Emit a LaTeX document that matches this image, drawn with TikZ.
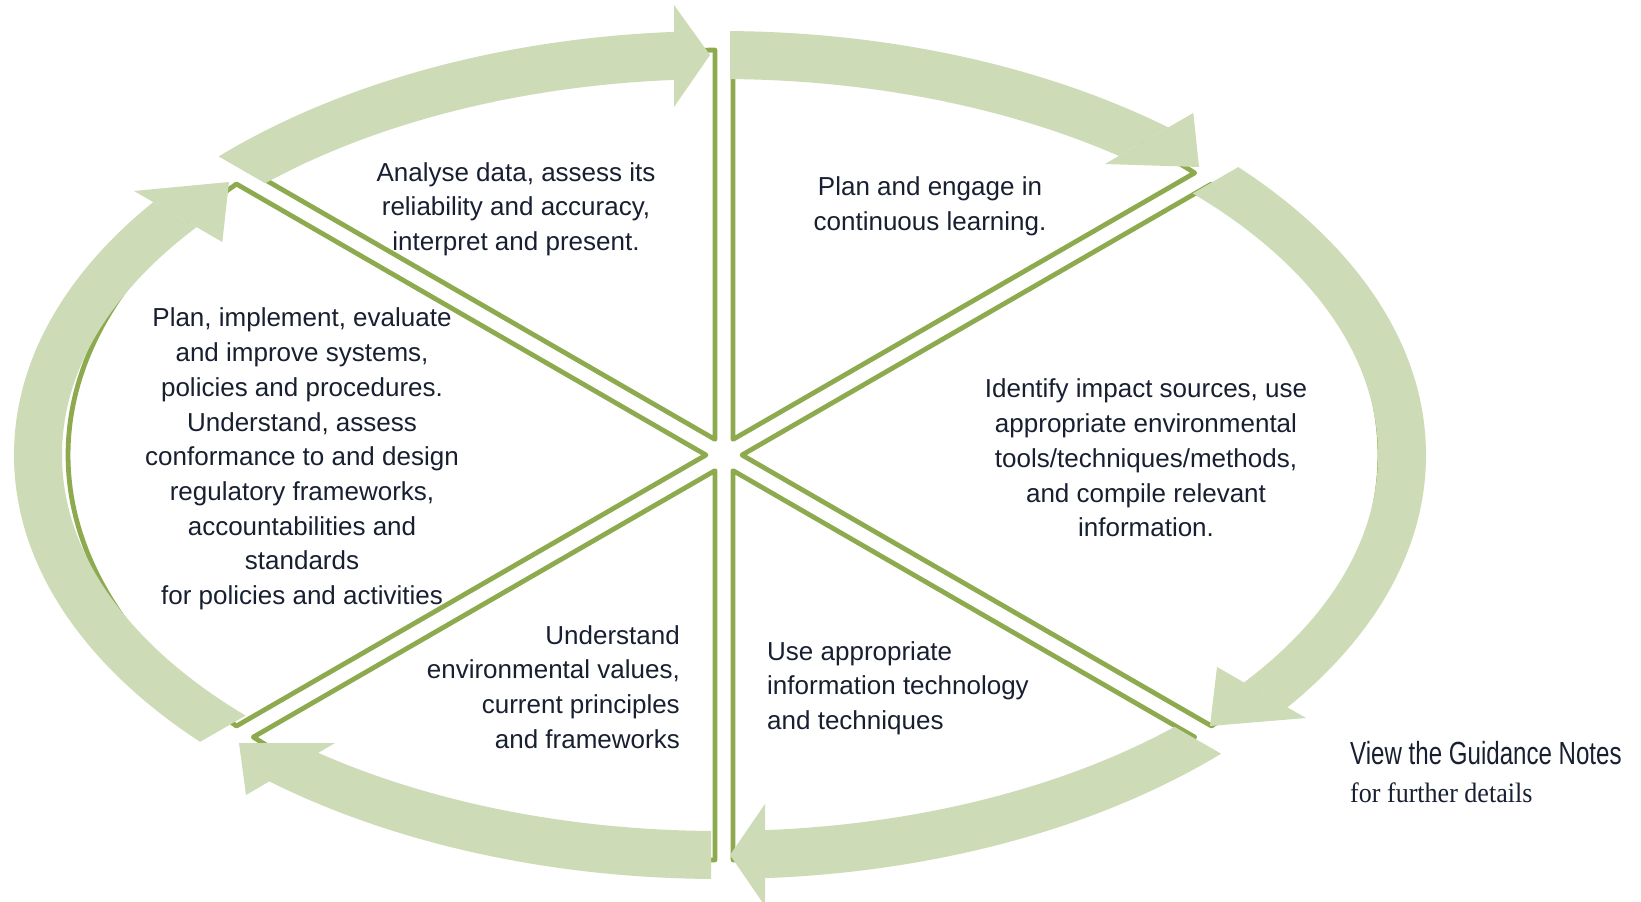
\documentclass[tikz,border=0pt]{standalone}
\usepackage{fontspec}
\usepackage{graphicx}
\setmainfont{Liberation Sans}
\newfontfamily\serifx{Liberation Serif}
\definecolor{arrowgreen}{RGB}{205,219,182}
\definecolor{linegreen}{RGB}{141,170,79}
\definecolor{txt}{RGB}{23,31,48}
\begin{document}
\begin{tikzpicture}[x=1pt,y=-1pt,
  sector/.style={draw=linegreen, line width=4.8pt, line join=round, line cap=round},
  band/.style={fill=arrowgreen},
  lbl/.style={text=txt, font=\fontsize{26}{34.7}\selectfont, inner sep=0pt},
  ring/.style={band, even odd rule},
]
\useasboundingbox (0,0) rectangle (1641,902);
\def\ringpath{(720,455) ellipse [x radius=706, y radius=424] (720,455) ellipse [x radius=658, y radius=376]}
% ---- sectors ----
\draw[sector] (733,439.41) -- plot[domain=-89.21:-44.15,samples=60] ({724+656*cos(\x)},{455+405*sin(\x)}) -- cycle;
\draw[sector] (742,455) -- plot[domain=-42:42,samples=80] ({724+656*cos(\x)},{455+405*sin(\x)}) -- cycle;
\draw[sector] (733,470.59) -- plot[domain=44.15:89.21,samples=60] ({724+656*cos(\x)},{455+405*sin(\x)}) -- cycle;
\draw[sector] (715,470.59) -- plot[domain=90.79:135.85,samples=60] ({724+656*cos(\x)},{455+405*sin(\x)}) -- cycle;
\draw[sector] (706,455) -- plot[domain=138:222,samples=80] ({724+656*cos(\x)},{455+405*sin(\x)}) -- cycle;
\draw[sector] (715,439.41) -- plot[domain=224.15:269.21,samples=60] ({724+656*cos(\x)},{455+405*sin(\x)}) -- cycle;
% ---- arrows ----
% A1 top-left
\begin{scope}
\clip (674,419.3) -- (-192,-80.7) -- (-192,-600) -- (674,-600) -- cycle;
\fill[ring] \ringpath;
\end{scope}
\fill[band] (674,5) -- (710,55) -- (674,107) -- cycle;
% A2 top-right
\begin{scope}
\clip (730,380.5) -- (730,-600) -- (2029,-600) -- (2029,-369.5) -- cycle;
\fill[ring] \ringpath;
\end{scope}
\fill[band] (1105,164) -- (1193.3,113) -- (1199,167) -- cycle;
% A3 right
\begin{scope}
\clip (794.7,423.2) -- (2526.7,-576.8) -- (2526.7,1423.2) -- cycle;
\fill[ring] \ringpath;
\end{scope}
\fill[band] (1217,667) -- (1306,718) -- (1210,726) -- cycle;
% A4 bottom-right
\begin{scope}
\clip (765,490.4) -- (2497,1490.4) -- (765,1490.4) -- cycle;
\fill[ring] \ringpath;
\end{scope}
\fill[band] (765,804) -- (730,855) -- (765,906) -- cycle;
% A5 bottom-left
\begin{scope}
\clip (711,525.9) -- (711,1525.9) -- (-1021,1525.9) -- cycle;
\fill[ring] \ringpath;
\end{scope}
\fill[band] (335,743) -- (246,795) -- (239,743) -- cycle;
% A6 left
\begin{scope}
\clip (644.1,485.5) -- (-1087.9,-514.5) -- (-1087.9,1485.5) -- cycle;
\fill[ring] \ringpath;
\end{scope}
\fill[band] (134,191) -- (222.3,242) -- (229,182) -- cycle;
% ---- texts ----
\node[lbl, align=center] (t1) at (516,209) {Analyse data, assess its\\reliability and accuracy,\\interpret and present.};
\node[lbl, align=center] (t2) at (930,206) {Plan and engage in\\continuous learning.};
\node[lbl, align=center] (t3) at (302,459) {Plan, implement, evaluate\\and improve systems,\\policies and procedures.\\Understand, assess\\conformance to and design\\regulatory frameworks,\\accountabilities and\\standards\\for policies and activities};
\node[lbl, align=center] (t4) at (1146,458) {Identify impact sources, use\\appropriate environmental\\tools/techniques/methods,\\and compile relevant\\information.};
\node[lbl, align=left, anchor=west] (t5) at (767,688) {Use appropriate\\information technology\\and techniques};
\node[lbl, align=right, anchor=east] (t6) at (680,687) {Understand\\environmental values,\\current principles\\and frameworks};
\node[anchor=base west, inner sep=0pt, text=txt] (g1) at (1350,764) {\scalebox{0.753}[1]{\fontsize{32}{36}\selectfont View the Guidance Notes}};
\node[anchor=base west, inner sep=0pt, text=txt] (g2) at (1350,802) {\scalebox{0.93}[1]{\serifx\fontsize{28}{32}\selectfont for further details}};
\end{tikzpicture}
\end{document}
